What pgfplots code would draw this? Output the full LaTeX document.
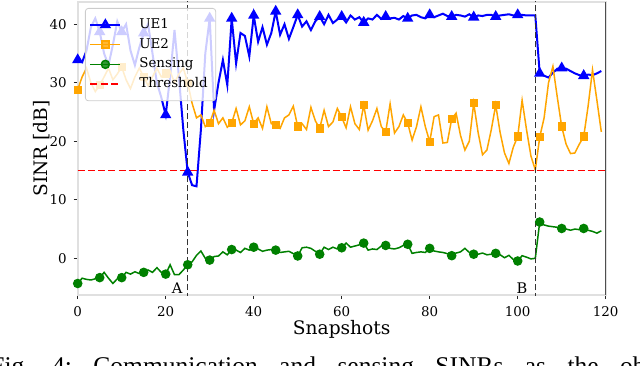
\documentclass[border=0pt]{standalone}
\usepackage{pgfplots}
\usepackage{pgfplotstable}
\pgfplotsset{compat=1.18}
\usepackage{fontspec}
\setmainfont{DejaVu Serif}
\newfontfamily\capfont{Liberation Serif}

\definecolor{ueone}{RGB}{0,0,255}
\definecolor{uetwo}{RGB}{255,165,0}
\definecolor{sens}{RGB}{0,128,0}

% snapshot, UE1, UE2, sensing SINR in dB
\pgfplotstableread{
x ue1 ue2 sens
0 33.9 28.8 -4.3
1 33.5 31.0 -3.4
2 35.5 32.5 -3.6
3 39.5 30.0 -3.7
4 41.0 28.5 -3.5
5 38.7 29.6 -3.3
6 35.0 31.0 -2.4
7 33.0 32.5 -3.4
8 36.5 30.5 -4.3
9 40.5 31.5 -3.5
10 38.7 32.7 -3.3
11 40.0 30.5 -2.4
12 35.5 29.0 -2.7
13 33.0 31.0 -2.3
14 36.0 32.5 -2.6
15 38.5 31.0 -2.4
16 40.0 29.5 -2.0
17 35.0 31.0 -2.4
18 30.0 32.5 -1.6
19 27.5 31.0 -2.4
20 24.5 31.6 -2.7
21 31.0 32.0 -1.1
22 39.0 30.0 -2.8
23 31.0 31.5 -2.8
24 22.0 32.5 -2.0
25 14.7 30.0 -1.1
26 12.5 26.5 -0.6
27 12.3 24.0 0.5
28 22.0 24.5 1.25
29 35.0 22.5 0.0
30 41.0 23.1 -0.3
31 25.3 25.3 0.3
32 30.0 23.0 0.4
33 33.9 24.0 1.1
34 29.6 22.4 0.6
35 41.0 23.1 1.5
36 33.3 25.6 1.4
37 38.5 22.8 1.0
38 38.0 23.5 1.7
39 34.5 25.9 1.4
40 41.5 23.0 1.9
41 37.0 24.0 1.6
42 39.5 22.2 1.2
43 36.5 25.9 1.4
44 38.5 23.0 1.5
45 42.2 22.8 1.4
46 38.2 22.2 1.0
47 40.0 24.0 1.1
48 37.5 24.5 1.2
49 39.5 26.0 0.8
50 41.6 22.5 0.4
51 39.6 23.0 1.8
52 40.5 22.0 1.9
53 39.0 25.8 1.7
54 40.5 23.5 1.2
55 41.3 22.2 0.7
56 40.0 25.3 1.9
57 41.6 22.5 1.5
58 40.2 23.3 1.9
59 40.8 25.6 1.6
60 41.3 24.1 1.8
61 40.3 22.3 2.6
62 41.5 25.9 1.9
63 40.8 23.0 2.1
64 41.2 22.0 2.3
65 40.3 26.2 2.6
66 41.0 21.9 1.4
67 40.8 23.5 1.6
68 41.6 25.6 1.5
69 40.9 22.5 2.1
70 41.3 21.6 2.2
71 41.0 26.4 1.7
72 41.1 21.4 1.6
73 40.8 22.5 1.8
74 41.4 24.5 2.2
75 41.0 23.1 2.4
76 41.5 20.2 0.85
77 41.6 22.5 1.0
78 41.2 25.9 1.1
79 41.0 22.5 1.0
80 41.6 19.9 1.7
81 41.2 24.2 1.25
82 41.5 24.5 1.1
83 41.8 19.7 1.0
84 41.4 19.8 0.8
85 41.3 23.8 0.45
86 41.6 24.8 0.9
87 41.5 21.0 1.1
88 41.3 18.5 1.7
89 41.7 20.0 1.0
90 41.2 26.5 0.7
91 41.5 21.5 0.7
92 41.4 17.7 0.9
93 41.6 18.5 0.6
94 41.6 22.0 0.7
95 41.3 26.2 0.85
96 41.5 21.5 0.6
97 41.6 18.0 0.1
98 41.7 16.2 0.5
99 41.5 19.0 -0.2
100 41.6 20.8 -0.46
101 41.6 27.0 0.45
102 41.5 22.0 0.2
103 41.5 17.5 -0.1
104 41.5 15.1 0.0
105 31.6 20.7 6.2
106 31.2 24.0 5.7
107 30.9 30.0 5.5
108 31.7 32.8 5.4
109 32.4 27.5 5.3
110 32.5 22.5 5.1
111 32.4 19.5 5.0
112 32.0 17.9 4.8
113 31.6 18.0 5.0
114 31.3 19.5 4.9
115 31.2 20.8 5.1
116 31.4 26.0 4.8
117 31.3 32.2 4.6
118 31.6 27.0 4.3
119 32.0 21.6 4.7
}\sinr

\begin{document}
\begin{tikzpicture}[x=0.5pt,y=0.5pt]
\useasboundingbox (0,0) rectangle (640,365);
\clip (0,0) rectangle (640,365);
\begin{axis}[
  at={(38.85pt,35pt)}, anchor=south west,
  scale only axis, width=264pt, height=146.5pt,
  xmin=0, xmax=120, ymin=-6.27, ymax=43.8,
  xtick={0,20,...,120}, ytick={0,10,20,30,40},
  tick pos=left, tick align=outside,
  major tick length=2pt,
  tick style={black!85, line width=0.5pt},
  axis line style={black!12, line width=0.9pt},
  /pgf/number format/assume math mode=true,
  ticklabel style={font=\fontsize{6.7}{8}\selectfont},
  xlabel={Snapshots}, ylabel={SINR [dB]},
  label style={font=\fontsize{9.3}{11}\selectfont},
  xlabel shift=-5pt, ylabel shift=-7pt,
  legend style={at={(0.0138,0.9795)}, anchor=north west,
    draw=black!20, rounded corners=1.5pt, fill=white, fill opacity=0.8,
    draw opacity=1, text opacity=1,
    font=\fontsize{6.7}{8}\selectfont, row sep=-0.6pt, column sep=7pt,
    inner xsep=2pt, inner ysep=3pt},
  legend cell align=left,
  legend image code/.code={\draw[mark repeat=2,mark phase=2]
    plot coordinates {(0pt,0pt) (7.5pt,0pt) (15pt,0pt)};},
]
\addplot[ueone, line width=1pt, mark=triangle*, mark size=2.3pt, mark repeat=5]
  table[x=x, y=ue1] {\sinr};
\addplot[uetwo, line width=0.75pt, mark=square*, mark size=1.7pt, mark repeat=5]
  table[x=x, y=ue2] {\sinr};
\addplot[sens, line width=0.75pt, mark=*, mark size=2pt, mark repeat=5]
  table[x=x, y=sens] {\sinr};
\addplot[red, line width=0.75pt, dash pattern=on 3.5pt off 1.6pt,
  legend image code/.code={\draw[red, line width=0.75pt,
    dash pattern=on 3.5pt off 1.6pt] (0pt,0pt) -- (15pt,0pt);}]
  coordinates {(0,15) (120,15)};
\legend{UE1,UE2,Sensing,Threshold}
\addplot[black!80, line width=0.75pt, dash pattern=on 3pt off 1.5pt, forget plot]
  coordinates {(25,-7) (25,45)};
\addplot[black!80, line width=0.75pt, dash pattern=on 3pt off 1.5pt, forget plot]
  coordinates {(104,-7) (104,45)};
\draw[black, line width=0.8pt] (rel axis cs:1,0) -- (rel axis cs:1,1);
\node[anchor=base east, inner sep=0pt, font=\fontsize{7.3}{8}\selectfont]
  at (axis cs:23.9,-5.93) {A};
\node[anchor=base east, inner sep=0pt, font=\fontsize{7.3}{8}\selectfont]
  at (axis cs:102.3,-5.93) {B};
\end{axis}
\node[anchor=base west, inner sep=0pt, font=\capfont\fontsize{12.75}{14}\selectfont]
  at (-10,-9) {\frenchspacing\makebox[346pt][s]{Fig. 4: Communication and sensing SINRs as the object}};
\end{tikzpicture}
\end{document}
